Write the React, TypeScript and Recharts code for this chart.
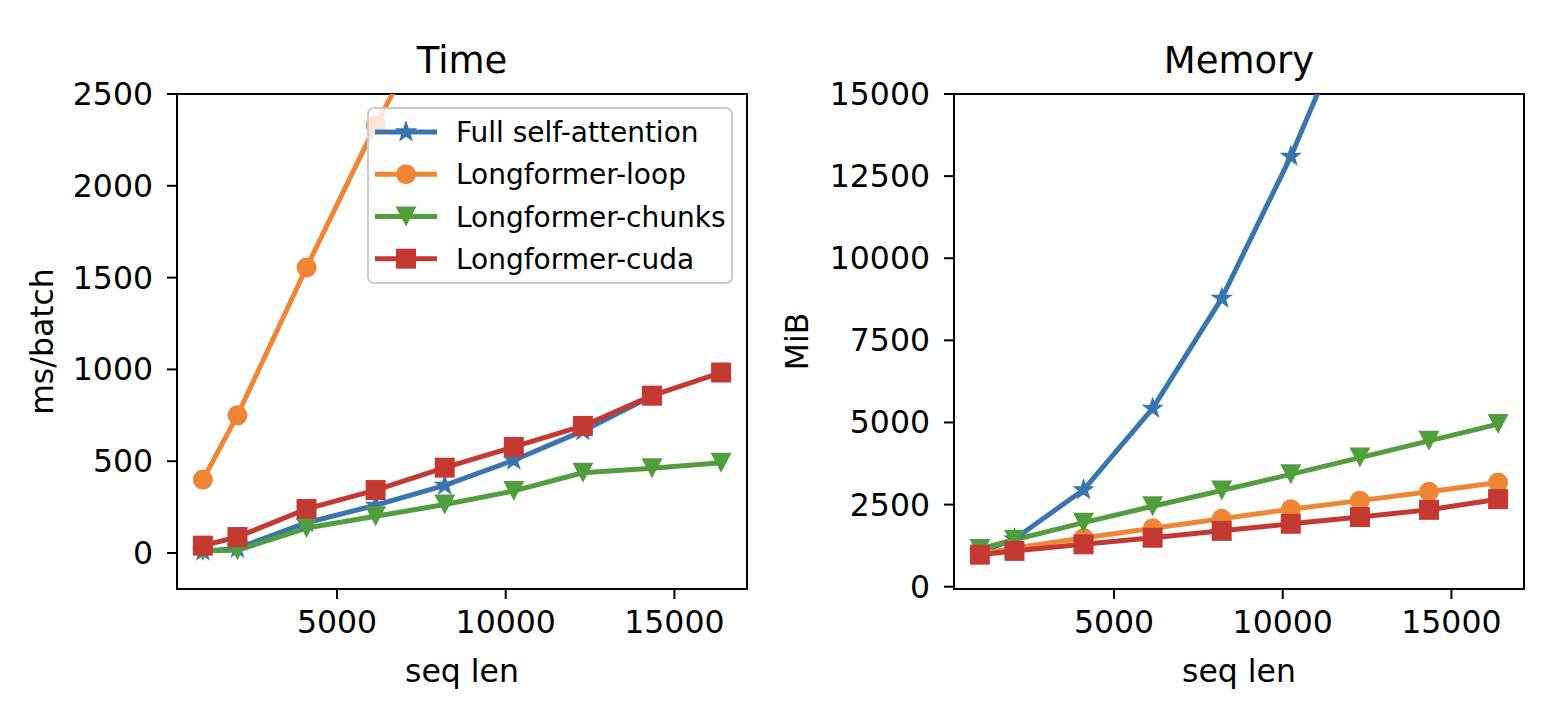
import React from 'react';
import { LineChart, Line, XAxis, YAxis, Legend, ReferenceArea } from 'recharts';

// ---- data ----
const seqLen = [1024, 2048, 4096, 6144, 8192, 10240, 12288, 14336, 16384];

const seriesNames = ['Full self-attention', 'Longformer-loop', 'Longformer-chunks', 'Longformer-cuda'];

// Time (ms/batch)
const timeFull = [10, 25, 165, 260, 368, 505, 665, 855, null];
const timeLoop = [400, 750, 1555, 2330, 3030, null, null, null, null];
const timeChunks = [12, 15, 136, 200, 264, 338, 437, 462, 492];
const timeCuda = [40, 87, 240, 343, 465, 578, 692, 857, 983];

// Memory (MiB)
const memFull = [1050, 1450, 2950, 5430, 8780, 13100, 18050, null, null];
const memLoop = [1000, 1180, 1480, 1780, 2070, 2360, 2620, 2890, 3170];
const memChunks = [1150, 1430, 1950, 2450, 2930, 3420, 3930, 4440, 4950];
const memCuda = [975, 1090, 1290, 1490, 1700, 1915, 2120, 2340, 2665];

const xTicks = [5000, 10000, 15000];
const timeTicks = [0, 500, 1000, 1500, 2000, 2500];
const memTicks = [0, 2500, 5000, 7500, 10000, 12500, 15000];

const X_DOMAIN: [number, number] = [256, 17152];
const TIME_DOMAIN: [number, number] = [-196, 2500];
const MEM_DOMAIN: [number, number] = [-70, 15000];

const timeData = seqLen.map((x, i) => ({
  x,
  full: timeFull[i],
  loop: timeLoop[i],
  chunks: timeChunks[i],
  cuda: timeCuda[i],
}));
const memData = seqLen.map((x, i) => ({
  x,
  full: memFull[i],
  loop: memLoop[i],
  chunks: memChunks[i],
  cuda: memCuda[i],
}));

// ---- styles ----
const FONT = '"DejaVu Sans", Verdana, sans-serif';
const COLORS = ['#3a75b0', '#ef8636', '#519e3e', '#c43a32'];
const KEYS = ['full', 'loop', 'chunks', 'cuda'];
const SHAPES = ['star', 'circle', 'tri', 'square'];
const LINE_W = 5;
const CHART_H = 694;
const TICK_FS = 31.5;
const MR = 10;

function starPoints(cx: number, cy: number, ro: number, ri: number) {
  const pts: string[] = [];
  for (let k = 0; k < 10; k++) {
    const r = k % 2 === 0 ? ro : ri;
    const a = -Math.PI / 2 + (k * Math.PI) / 5;
    pts.push(`${cx + r * Math.cos(a)},${cy + r * Math.sin(a)}`);
  }
  return pts.join(' ');
}

function MarkerShape({ shape, cx, cy, color }: { shape: string; cx: number; cy: number; color: string }) {
  switch (shape) {
    case 'circle':
      return <circle cx={cx} cy={cy} r={MR} fill={color} />;
    case 'square':
      return <rect x={cx - MR} y={cy - MR} width={2 * MR} height={2 * MR} fill={color} />;
    case 'tri':
      return (
        <polygon
          points={`${cx},${cy + MR} ${cx - MR - 0.5},${cy - MR} ${cx + MR + 0.5},${cy - MR}`}
          fill={color}
        />
      );
    case 'star':
    default:
      return (
        <polygon
          points={starPoints(cx, cy, 9.5, 3.8)}
          fill={color}
          stroke={color}
          strokeWidth={1.5}
          strokeLinejoin="miter"
        />
      );
  }
}

const makeDot = (shape: string, color: string) => (props: any) => {
  const { cx, cy, index, value } = props;
  if (cx == null || cy == null || value == null || Number.isNaN(cy)) return <g key={`d-${index}`} />;
  return (
    <g key={`d-${index}`}>
      <MarkerShape shape={shape} cx={cx} cy={cy} color={color} />
    </g>
  );
};

const XTick = (props: any) => {
  const { x, y, payload } = props;
  return (
    <text x={x} y={y} dy={22} textAnchor="middle" fontSize={TICK_FS} fontFamily={FONT} fill="#000">
      {payload.value}
    </text>
  );
};

const YTick = (props: any) => {
  const { x, y, payload } = props;
  return (
    <text x={x} y={y} dy={11} textAnchor="end" fontSize={TICK_FS} fontFamily={FONT} fill="#000">
      {payload.value}
    </text>
  );
};

const axisStroke = { stroke: '#000', strokeWidth: 2 };

const LegendBox = () => {
  const w = 366;
  const h = 177;
  const rowY = [25, 67.3, 109.5, 151.7];
  return (
    <svg width={w} height={h} style={{ display: 'block', overflow: 'visible' }}>
      <rect
        x={1}
        y={1}
        width={w - 2}
        height={h - 2}
        rx={6}
        ry={6}
        fill="rgba(255,255,255,0.8)"
        stroke="#cccccc"
        strokeWidth={2}
      />
      {seriesNames.map((name, i) => (
        <g key={name}>
          <line x1={8} x2={70} y1={rowY[i]} y2={rowY[i]} stroke={COLORS[i]} strokeWidth={LINE_W} />
          <MarkerShape shape={SHAPES[i]} cx={39} cy={rowY[i]} color={COLORS[i]} />
          <text x={89} y={rowY[i] + 10} fontSize={28} fontFamily={FONT} fill="#000">
            {name}
          </text>
        </g>
      ))}
    </svg>
  );
};

function Panel({
  data,
  title,
  yLabel,
  yLabelOffset,
  yDomain,
  yTicks,
  width,
  yAxisWidth,
  withLegend,
}: {
  data: any[];
  title: string;
  yLabel: string;
  yLabelOffset: number;
  yDomain: [number, number];
  yTicks: number[];
  width: number;
  yAxisWidth: number;
  withLegend?: boolean;
}) {
  return (
    <LineChart width={width} height={CHART_H} data={data} margin={{ top: 86, right: 38, left: 0, bottom: 0 }}>
      <XAxis
        dataKey="x"
        type="number"
        domain={X_DOMAIN}
        ticks={xTicks}
        allowDataOverflow
        height={113}
        tick={XTick}
        tickSize={10}
        tickMargin={12}
        axisLine={axisStroke}
        tickLine={axisStroke}
        interval={0}
        label={{
          value: 'seq len',
          position: 'insideBottom',
          offset: 20,
          fontSize: TICK_FS,
          fontFamily: FONT,
          fill: '#000',
        }}
      />
      <YAxis
        type="number"
        domain={yDomain}
        ticks={yTicks}
        allowDataOverflow
        width={yAxisWidth}
        tick={YTick}
        tickSize={10}
        tickMargin={14}
        interval={0}
        axisLine={axisStroke}
        tickLine={axisStroke}
        label={{
          value: yLabel,
          angle: -90,
          position: 'insideLeft',
          offset: yLabelOffset,
          fontSize: TICK_FS,
          fontFamily: FONT,
          fill: '#000',
          style: { textAnchor: 'middle' },
        }}
      />
      <ReferenceArea
        x1={X_DOMAIN[0]}
        x2={X_DOMAIN[1]}
        y1={yDomain[0]}
        y2={yDomain[1]}
        fill="none"
        fillOpacity={0}
        stroke="#000"
        strokeWidth={2}
        ifOverflow="visible"
        label={{
          value: title,
          position: 'top',
          offset: 21,
          fontSize: 37,
          fontFamily: FONT,
          fill: '#000',
        }}
      />
      {KEYS.map((k, i) => (
        <Line
          key={k}
          type="linear"
          dataKey={k}
          name={seriesNames[i]}
          stroke={COLORS[i]}
          strokeWidth={LINE_W}
          strokeLinejoin="round"
          dot={makeDot(SHAPES[i], COLORS[i])}
          activeDot={false}
          isAnimationActive={false}
          connectNulls={false}
        />
      ))}
      {withLegend && (
        <Legend
          layout="vertical"
          verticalAlign="middle"
          align="center"
          content={() => <LegendBox />}
          wrapperStyle={{ left: 358.7, top: 98.7, width: 366, height: 177 }}
        />
      )}
    </LineChart>
  );
}

export default function App() {
  return (
    <div style={{ position: 'relative', width: 1554, height: CHART_H, background: '#fff' }}>
      <div style={{ position: 'absolute', left: 0, top: 0 }}>
        <Panel
          data={timeData}
          title="Time"
          yLabel="ms/batch"
          yLabelOffset={34}
          yDomain={TIME_DOMAIN}
          yTicks={timeTicks}
          width={777}
          yAxisWidth={169}
          withLegend
        />
      </div>
      <div style={{ position: 'absolute', left: 757, top: 0 }}>
        <Panel
          data={memData}
          title="Memory"
          yLabel="MiB"
          yLabelOffset={32}
          yDomain={MEM_DOMAIN}
          yTicks={memTicks}
          width={797}
          yAxisWidth={189}
        />
      </div>
    </div>
  );
}
